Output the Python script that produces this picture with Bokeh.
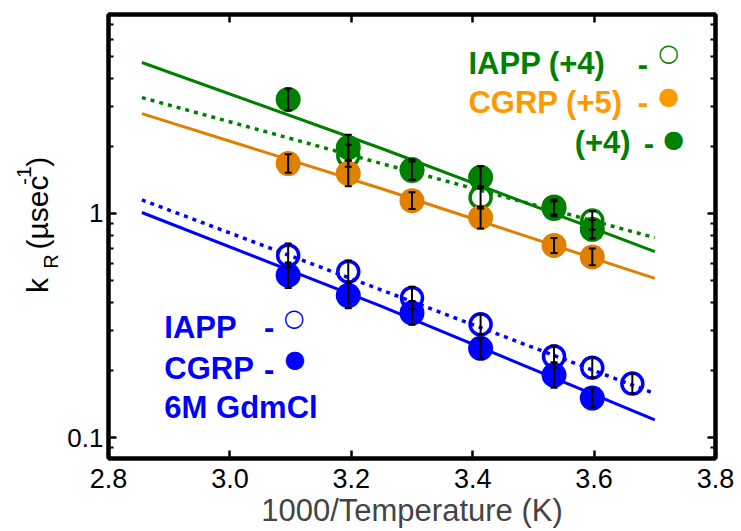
from math import pi
from bokeh.plotting import figure
from bokeh.layouts import row
from bokeh.models import (ColumnDataSource, Whisker, TeeHead, Label, LinearAxis,
                          LogAxis, FixedTicker, Range1d, PrintfTickFormatter)
from bokeh.embed import file_html
from bokeh.resources import INLINE

# ---------------- data (1000/T in 1/K, k_R in 1/usec) ----------------
x_six = [3.096, 3.195, 3.300, 3.413, 3.534, 3.597]
x_iapp_gdm = [3.096, 3.195, 3.300, 3.413, 3.534, 3.597, 3.663]
x_iapp4 = [3.195, 3.300, 3.413, 3.534, 3.597]

iapp_gdm_k = [0.65, 0.55, 0.42, 0.32, 0.23, 0.205, 0.174]
iapp_gdm_err = [0.13, 0.12, 0.12, 0.11, 0.12, 0.11, 0.11]
cgrp_gdm_k = [0.53, 0.43, 0.36, 0.25, 0.19, 0.15]
cgrp_gdm_err = [0.14, 0.14, 0.13, 0.11, 0.14, 0.10]
iapp4_k = [1.81, 1.55, 1.18, 1.05, 0.93]
iapp4_err = [0.12, 0.10, 0.12, 0.08, 0.10]
cgrp5_k = [1.67, 1.51, 1.14, 0.96, 0.72, 0.64]
cgrp5_err = [0.10, 0.14, 0.09, 0.12, 0.08, 0.09]
cgrp4_k = [3.23, 1.97, 1.57, 1.45, 1.07, 0.85]
cgrp4_err = [0.12, 0.14, 0.11, 0.12, 0.08, 0.10]

# fitted curves
fit_x = [2.855, 3.25, 3.70]
fit_cgrp4 = [4.72, 1.95, 0.676]
fit_iapp4 = [3.29, 1.67, 0.78]
fit_cgrp5 = [2.79, 1.29, 0.513]
fit_cgrp_gdm = [1.01, 0.385, 0.12]
fit_iapp_gdm = [1.15, 0.455, 0.157]

x_ticks = [2.8, 3.0, 3.2, 3.4, 3.6, 3.8]
y_major = [0.1, 1]
y_minor = [0.08, 0.09, 0.2, 0.3, 0.4, 0.5, 0.6, 0.7, 0.8, 0.9, 2, 3, 4, 5, 6, 7]

GREEN = "#008000"
ORANGE = "#E08000"
ORANGE_TXT = "#FF9900"
BLUE = "#0000FF"
FONT = "Liberation Sans"

LABEL_W = 64

p = figure(width=741 - LABEL_W, height=531, y_axis_type="log",
           x_range=Range1d(2.8, 3.8), y_range=Range1d(0.0806, 7.73),
           output_backend="svg", toolbar_location=None,
           min_border_left=106 - LABEL_W, min_border_right=26,
           min_border_top=14, min_border_bottom=73)
p.grid.visible = False
p.background_fill_color = "white"
p.border_fill_color = "white"
p.outline_line_color = "black"
p.outline_line_width = 4


def style_axis(ax, labels=True):
    ax.axis_line_width = 4
    ax.axis_line_color = "black"
    ax.major_tick_in = 8
    ax.major_tick_out = 0
    ax.minor_tick_in = 5
    ax.minor_tick_out = 0
    ax.major_tick_line_width = 2.5
    ax.minor_tick_line_width = 2
    ax.major_label_text_font = FONT
    ax.major_label_text_color = "black"
    if not labels:
        ax.major_label_text_font_size = "1px"
        ax.major_label_text_color = None
        ax.major_label_standoff = 0


p.xaxis.ticker = FixedTicker(ticks=x_ticks)
p.yaxis.ticker = FixedTicker(ticks=y_major, minor_ticks=y_minor)
p.xaxis.formatter = PrintfTickFormatter(format="%.1f")
style_axis(p.xaxis[0])
style_axis(p.yaxis[0])
p.xaxis.major_label_text_font_size = "27px"
p.yaxis.major_label_text_font_size = "26px"
p.xaxis.major_label_standoff = 10
p.yaxis.major_label_standoff = 5
p.yaxis.major_label_overrides = {0.1: "0.1", 1: "1"}
p.xaxis.axis_label = "1000/Temperature (K)"
p.xaxis.axis_label_text_font = FONT
p.xaxis.axis_label_text_font_size = "31px"
p.xaxis.axis_label_text_font_style = "normal"
p.xaxis.axis_label_standoff = 2

top = LinearAxis(ticker=FixedTicker(ticks=x_ticks))
style_axis(top, labels=False)
p.add_layout(top, "above")
right = LogAxis(ticker=FixedTicker(ticks=y_major, minor_ticks=y_minor))
style_axis(right, labels=False)
p.add_layout(right, "right")

# fitted lines
p.line(fit_x, fit_cgrp4, line_color=GREEN, line_width=3)
p.line(fit_x, fit_iapp4, line_color=GREEN, line_width=3.5, line_dash="4 5")
p.line(fit_x, fit_cgrp5, line_color=ORANGE, line_width=3)
p.line(fit_x, fit_cgrp_gdm, line_color=BLUE, line_width=3)
p.line(fit_x, fit_iapp_gdm, line_color=BLUE, line_width=3.5, line_dash="4 5")


def src(x, k, e):
    return ColumnDataSource(dict(
        x=x, k=k,
        upper=[v * (1 + r) for v, r in zip(k, e)],
        lower=[v / (1 + r) for v, r in zip(k, e)]))


s_iapp_gdm = src(x_iapp_gdm, iapp_gdm_k, iapp_gdm_err)
s_cgrp_gdm = src(x_six, cgrp_gdm_k, cgrp_gdm_err)
s_iapp4 = src(x_iapp4, iapp4_k, iapp4_err)
s_cgrp5 = src(x_six, cgrp5_k, cgrp5_err)
s_cgrp4 = src(x_six, cgrp4_k, cgrp4_err)

# open circles first
p.scatter("x", "k", source=s_iapp_gdm, size=21, fill_color=None,
          line_color=BLUE, line_width=3.5)
p.scatter("x", "k", source=s_iapp4, size=21, fill_color=None,
          line_color=GREEN, line_width=3.5)
# filled circles
p.scatter("x", "k", source=s_cgrp_gdm, size=25, fill_color=BLUE, line_color=None)
p.scatter("x", "k", source=s_cgrp5, size=25, fill_color=ORANGE, line_color=None)
p.scatter("x", "k", source=s_cgrp4, size=25, fill_color=GREEN, line_color=None)

for s in (s_iapp_gdm, s_cgrp_gdm, s_iapp4, s_cgrp5, s_cgrp4):
    p.add_layout(Whisker(base="x", upper="upper", lower="lower", source=s,
                         dimension="height", line_color="black", line_width=2,
                         level="overlay",
                         upper_head=TeeHead(size=7, line_width=2, line_color="black"),
                         lower_head=TeeHead(size=7, line_width=2, line_color="black")))


def lab(fig, text, x, y, color, size="31px", style="bold", font=FONT, align="left",
        baseline="alphabetic", angle=0):
    fig.add_layout(Label(x=x, y=y, text=text, text_color=color, text_font=font,
                         text_font_size=size, text_font_style=style,
                         text_align=align, text_baseline=baseline, angle=angle))


# upper-right legend
lab(p, "IAPP (+4)", 3.393, 4.67, GREEN)
lab(p, "-", 3.672, 4.67, GREEN)
lab(p, "○", 3.723, 5.18, GREEN, size="24px", style="normal", font="DejaVu Sans",
    align="center", baseline="middle")
lab(p, "CGRP (+5)", 3.393, 3.13, ORANGE_TXT)
lab(p, "-", 3.672, 3.13, ORANGE_TXT)
lab(p, "●", 3.723, 3.36, ORANGE_TXT, size="24px", style="normal", font="DejaVu Sans",
    align="center", baseline="middle")
lab(p, "(+4)", 3.568, 2.07, GREEN)
lab(p, "-", 3.682, 2.07, GREEN)
lab(p, "●", 3.731, 2.16, GREEN, size="24px", style="normal", font="DejaVu Sans",
    align="center", baseline="middle")

# lower-left legend
lab(p, "IAPP", 2.892, 0.310, BLUE)
lab(p, "-", 3.056, 0.310, BLUE)
lab(p, "○", 3.106, 0.343, BLUE, size="24px", style="normal", font="DejaVu Sans",
    align="center", baseline="middle")
lab(p, "CGRP", 2.892, 0.203, BLUE)
lab(p, "-", 3.056, 0.203, BLUE)
lab(p, "●", 3.107, 0.223, BLUE, size="24px", style="normal", font="DejaVu Sans",
    align="center", baseline="middle")
lab(p, "6M GdmCl", 2.892, 0.136, BLUE)

# y-axis title panel: k_R (µsec^-1), in a narrow pixel-unit figure on the left
q = figure(width=LABEL_W, height=531, x_range=Range1d(0, LABEL_W),
           y_range=Range1d(0, 531), output_backend="svg", toolbar_location=None,
           x_axis_location=None, y_axis_location=None,
           min_border_left=0, min_border_right=0, min_border_top=0,
           min_border_bottom=0)
q.grid.visible = False
q.outline_line_color = None
q.background_fill_color = "white"
q.border_fill_color = "white"

lab(q, "k", 37, 198, "black", size="30px", style="normal", angle=pi / 2)
lab(q, "R", 50, 227, "black", size="20px", style="normal", angle=pi / 2)
lab(q, "(µsec", 37, 250, "black", size="30px", style="normal", angle=pi / 2)
lab(q, "-1", 23, 327, "black", size="21px", style="normal", angle=pi / 2)
lab(q, ")", 37, 349, "black", size="30px", style="normal", angle=pi / 2)

layout = row(q, p, spacing=0)
open("out.html", "w").write(file_html(layout, INLINE))
